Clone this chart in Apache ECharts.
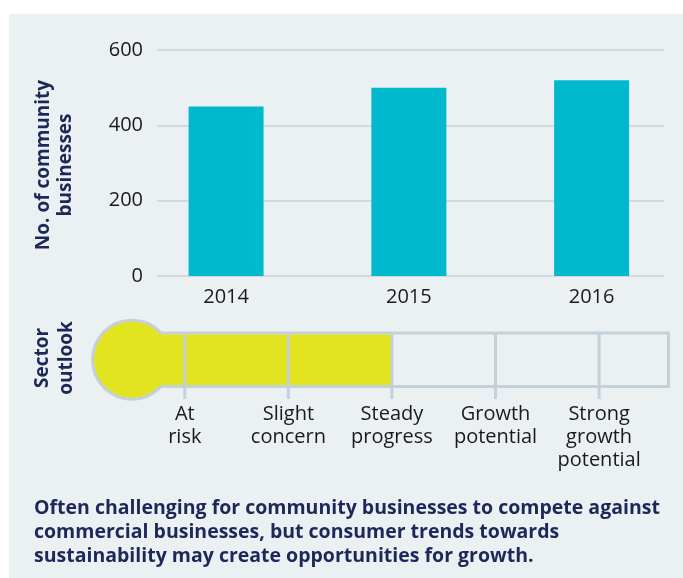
<!DOCTYPE html>
<html><head><meta charset="utf-8">
<script src="https://cdn.jsdelivr.net/npm/echarts@6/dist/echarts.min.js"></script>
<style>html,body{margin:0;padding:0;background:#fff;}
#panel{position:absolute;left:9px;top:14px;width:674px;height:564px;background:#ebf0f3;}
#chart{position:absolute;left:0;top:0;width:683px;height:578px;}
</style></head><body><div id="panel"></div><div id="chart"></div>
<script>
const years = ['2014', '2015', '2016'];
const businesses = [450, 500, 520];
const yMin = 0, yMax = 600, yStep = 200;
const outlookLabels = ['At\nrisk', 'Slight\nconcern', 'Steady\nprogress', 'Growth\npotential', 'Strong\ngrowth\npotential'];
const outlookLevel = 2; // "Steady progress"
const yTitle = 'No. of community\nbusinesses';
const outlookTitle = 'Sector\noutlook';
const note = 'Often challenging for community businesses to compete against\ncommercial businesses, but consumer trends towards\nsustainability may create opportunities for growth.';

const NAVY = '#1d2859', CYAN = '#00b9cc', YEL = '#e1e41e', GRAY = '#c5d1d9', TXT = '#1a1a1a';
const FONT = '"Open Sans"';

const chart = echarts.init(document.getElementById('chart'), null, {renderer: 'canvas'});
chart.setOption({
  animation: false,
  backgroundColor: 'transparent',
  grid: [
    {left: 157, right: 19, top: 50, height: 226},
    {left: 134.7, width: 552, top: 50, height: 226},
    {left: 162, width: 506.5, top: 333, height: 53.5, show: true, borderColor: GRAY, borderWidth: 3, backgroundColor: 'transparent'}
  ],
  xAxis: [
    {gridIndex: 0, type: 'category', data: years, show: false},
    {gridIndex: 1, type: 'category', data: years,
      axisLine: {show: false}, axisTick: {show: false},
      axisLabel: {color: TXT, fontFamily: 'Open Sans', fontSize: 20, margin: 11}},
    {gridIndex: 2, type: 'value', min: -0.22, max: 4.67, show: false}
  ],
  yAxis: [
    {gridIndex: 0, type: 'value', min: yMin, max: yMax, interval: yStep,
      axisLine: {show: false}, axisTick: {show: false},
      axisLabel: {color: TXT, fontFamily: 'Open Sans', fontSize: 20, margin: 14},
      splitLine: {lineStyle: {color: '#c9d3da', width: 1.5}}},
    {gridIndex: 1, type: 'value', min: yMin, max: yMax, interval: yStep, show: false},
    {gridIndex: 2, type: 'value', min: 0, max: 1, show: false}
  ],
  series: [
    {type: 'bar', xAxisIndex: 1, yAxisIndex: 1, data: businesses, barWidth: 75,
      itemStyle: {color: CYAN}},
    {type: 'custom', xAxisIndex: 2, yAxisIndex: 2, clip: false,
      data: [[outlookLevel, 0.5]],
      renderItem: function (params, api) {
        const cs = params.coordSys;
        const end = api.coord([api.value(0), 0.5])[0];
        const cy = cs.y + cs.height / 2;
        const r = 39.5, cx = cs.x - 30;
        return {type: 'group', children: [
          {type: 'circle', shape: {cx: cx, cy: cy, r: r}, style: {fill: YEL, stroke: GRAY, lineWidth: 3}},
          {type: 'rect', shape: {x: cx, y: cs.y + 1.5, width: end - cx, height: cs.height - 3}, style: {fill: YEL}}
        ]};
      }},
    {type: 'custom', xAxisIndex: 2, yAxisIndex: 2, clip: false,
      data: outlookLabels.map(function (l, i) { return [i, 0.5]; }),
      renderItem: function (params, api) {
        const cs = params.coordSys;
        const x = api.coord([api.value(0), 0.5])[0];
        const bottom = cs.y + cs.height;
        return {type: 'group', children: [
          {type: 'line', shape: {x1: x, y1: cs.y, x2: x, y2: bottom + 12.5}, style: {stroke: GRAY, lineWidth: 3}},
          {type: 'text', x: x, y: bottom + 16, style: {text: outlookLabels[params.dataIndex], align: 'center', verticalAlign: 'top',
            font: '20px ' + FONT, lineHeight: 23, fill: TXT}}
        ]};
      }}
  ],
  graphic: [
    {type: 'text', x: 55, y: 165, rotation: Math.PI / 2,
      style: {text: yTitle, align: 'center', verticalAlign: 'middle', font: 'bold 19px ' + FONT, lineHeight: 22, fill: NAVY}},
    {type: 'text', x: 55, y: 358, rotation: Math.PI / 2,
      style: {text: outlookTitle, align: 'center', verticalAlign: 'middle', font: 'bold 19px ' + FONT, lineHeight: 24, fill: NAVY}},
    {type: 'text', x: 34, y: 496,
      style: {text: note, align: 'left', verticalAlign: 'top', font: 'bold 19.5px ' + FONT, lineHeight: 24, fill: NAVY}}
  ]
});
</script></body></html>
